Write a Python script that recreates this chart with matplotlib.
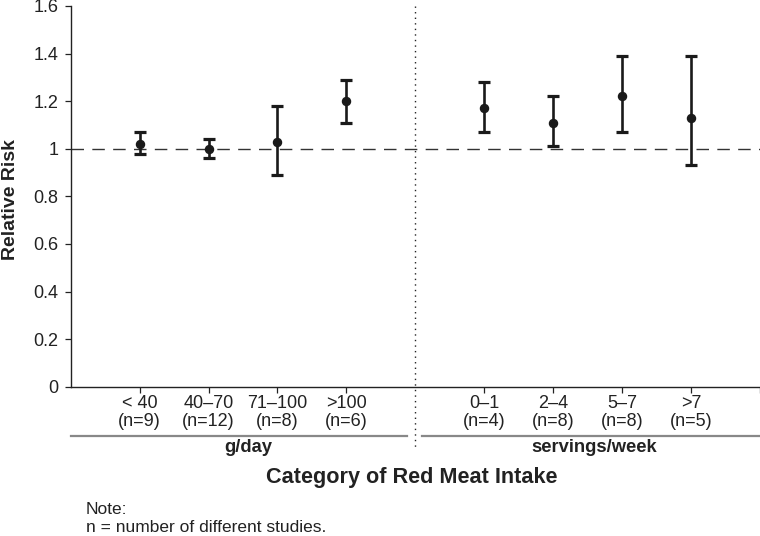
import matplotlib
matplotlib.use("Agg")
import matplotlib.pyplot as plt
import matplotlib.transforms as mtransforms

plt.rcParams['font.family'] = ['Liberation Sans', 'DejaVu Sans']

# Data
categories = ["< 40\n(n=9)", "40\u201370\n(n=12)", "71\u2013100\n(n=8)", ">100\n(n=6)",
              "0\u20131\n(n=4)", "2\u20134\n(n=8)", "5\u20137\n(n=8)", ">7\n(n=5)"]
positions = [1, 2, 3, 4, 6, 7, 8, 9]
rr = [1.02, 1.00, 1.03, 1.20, 1.17, 1.11, 1.22, 1.13]
lower = [0.98, 0.96, 0.89, 1.11, 1.07, 1.01, 1.07, 0.93]
upper = [1.07, 1.04, 1.18, 1.29, 1.28, 1.22, 1.39, 1.39]
groups = ["g/day", "servings/week"]
yticks = [0, 0.2, 0.4, 0.6, 0.8, 1, 1.2, 1.4, 1.6]
ytick_labels = ["0", "0.2", "0.4", "0.6", "0.8", "1", "1.2", "1.4", "1.6"]

W, H = 760, 536
fig = plt.figure(figsize=(W / 100, H / 100), dpi=100)
ax = fig.add_axes([70.7 / W, 1 - 386.7 / H, 1 - 70.7 / W, (386.7 - 6) / H])

dark = "#1a1a1a"
ax.axhline(1.0, color="#333333", lw=1.0, dashes=(9, 6), zorder=1)

yerr = [[r - l for r, l in zip(rr, lower)], [u - r for r, u in zip(rr, upper)]]
ax.errorbar(positions, rr, yerr=yerr, fmt="o", color=dark, ecolor=dark,
            elinewidth=1.9, capsize=4.6, capthick=2.3, markersize=5.8, zorder=3)

ax.set_xlim(0, 10)
ax.set_ylim(0, 1.6)
ax.set_yticks(yticks)
ax.set_yticklabels(ytick_labels)
ax.set_xticks(positions + [10])
ax.set_xticklabels(categories + [""])

for s in ["top", "right"]:
    ax.spines[s].set_visible(False)
for s in ["left", "bottom"]:
    ax.spines[s].set_color("#222222")
    ax.spines[s].set_linewidth(1.0)
ax.tick_params(axis="both", colors="#222222", labelsize=13, length=4, width=0.9)
ax.tick_params(axis="x", pad=2)
ax.tick_params(axis="y", pad=5)
for lab in ax.get_xticklabels():
    lab.set_linespacing(1.05)

trans = mtransforms.blended_transform_factory(ax.transData, ax.transAxes)
# separator dotted line
ax.plot([5, 5], [1.0, -0.166], transform=trans, color="#222222", lw=1.0,
        linestyle=(0, (1, 3)), clip_on=False, zorder=2)
# group lines
ax.plot([0, 4.88], [-0.1287, -0.1287], transform=trans, color="#888888", lw=1.6, clip_on=False)
ax.plot([5.1, 10], [-0.1287, -0.1287], transform=trans, color="#888888", lw=1.6, clip_on=False)
ax.text(2.57, -0.161, groups[0], transform=trans, ha="center", va="center",
        fontsize=13.2, fontweight="bold", color="#222222")
ax.text(7.59, -0.161, groups[1], transform=trans, ha="center", va="center",
        fontsize=13.2, fontweight="bold", color="#222222")

fig.text(11 / W, 1 - 200 / H, "Relative Risk", rotation=90, ha="center", va="center",
         fontsize=14, fontweight="bold", color="#222222")
fig.text(412 / W, 1 - 477.7 / H, "Category of Red Meat Intake", ha="center", va="center",
         fontsize=15.6, fontweight="bold", color="#222222")
fig.text(85.7 / W, 1 - 514 / H, "Note:", ha="left", va="baseline", fontsize=12.5, color="#222222")
fig.text(85.7 / W, 1 - 532 / H, "n = number of different studies.", ha="left", va="baseline",
         fontsize=12.5, color="#222222")

fig.savefig("out.png", dpi=100)
